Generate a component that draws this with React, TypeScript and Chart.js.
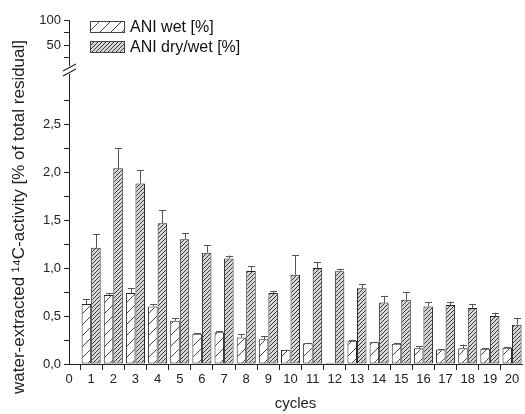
import React, { useEffect, useRef } from "react";
import { Chart, registerables } from "chart.js";

Chart.register(...registerables);

const cycles = [1, 2, 3, 4, 5, 6, 7, 8, 9, 10, 11, 12, 13, 14, 15, 16, 17, 18, 19, 20];
const wetValues = [0.625, 0.72, 0.74, 0.6, 0.45, 0.316, 0.33, 0.275, 0.257, 0.146, 0.215, 0.013, 0.243, 0.226, 0.21, 0.163, 0.15, 0.163, 0.16, 0.17];
const wetErrors = [0.05, 0.02, 0.05, 0.025, 0.025, 0.006, 0.01, 0.035, 0.03, 0.005, 0.005, 0.0, 0.005, 0.005, 0.005, 0.025, 0.005, 0.04, 0.005, 0.005];
const dryValues = [1.21, 2.04, 1.88, 1.465, 1.3, 1.16, 1.1, 0.97, 0.74, 0.93, 1.0, 0.965, 0.79, 0.64, 0.67, 0.6, 0.615, 0.583, 0.5, 0.41];
const dryErrors = [0.14, 0.21, 0.14, 0.135, 0.06, 0.08, 0.03, 0.05, 0.02, 0.205, 0.06, 0.025, 0.04, 0.07, 0.08, 0.045, 0.035, 0.037, 0.035, 0.07];
const seriesLabels = ["ANI wet [%]", "ANI dry/wet [%]"];
const xTitle = "cycles";
const yTitle = "water-extracted \u00B9\u2074C-activity [% of total residual]";

const FONT = "'Liberation Sans', Arial, Helvetica, sans-serif";
const INK = "#222";

function makeWetPattern(): CanvasPattern | string {
  const c = document.createElement("canvas");
  const s = 11;
  c.width = s;
  c.height = s;
  const g = c.getContext("2d");
  if (!g) return "#fff";
  g.fillStyle = "#fff";
  g.fillRect(0, 0, s, s);
  g.strokeStyle = "#444";
  g.lineWidth = 1;
  g.beginPath();
  g.moveTo(-1, s + 1);
  g.lineTo(s + 1, -1);
  g.moveTo(-2, 1);
  g.lineTo(1, -2);
  g.moveTo(s - 1, s + 2);
  g.lineTo(s + 2, s - 1);
  g.stroke();
  return g.createPattern(c, "repeat") || "#fff";
}

function makeDryPattern(): CanvasPattern | string {
  const c = document.createElement("canvas");
  const s = 4;
  c.width = s;
  c.height = s;
  const g = c.getContext("2d");
  if (!g) return "#999";
  g.fillStyle = "#d6d6d6";
  g.fillRect(0, 0, s, s);
  g.strokeStyle = "#3a3a3a";
  g.lineWidth = 1;
  g.beginPath();
  g.moveTo(-1, s + 1);
  g.lineTo(s + 1, -1);
  g.moveTo(-1, 1);
  g.lineTo(1, -1);
  g.moveTo(s - 1, s + 1);
  g.lineTo(s + 1, s - 1);
  g.stroke();
  return g.createPattern(c, "repeat") || "#999";
}

const errorBarPlugin = {
  id: "errorBars",
  afterDatasetsDraw(chart: any) {
    const ctx = chart.ctx;
    const yScale = chart.scales.y;
    const errs = [wetErrors, dryErrors];
    const vals = [wetValues, dryValues];
    ctx.save();
    ctx.strokeStyle = "#555";
    ctx.lineWidth = 1;
    chart.data.datasets.forEach((_ds: any, di: number) => {
      const meta = chart.getDatasetMeta(di);
      meta.data.forEach((bar: any, i: number) => {
        const e = errs[di][i];
        if (!e) return;
        const yTop = yScale.getPixelForValue(vals[di][i] + e);
        const x = Math.round(bar.x) + 0.5;
        ctx.beginPath();
        ctx.moveTo(x, bar.y);
        ctx.lineTo(x, yTop);
        ctx.moveTo(x - 3.5, Math.round(yTop) + 0.5);
        ctx.lineTo(x + 3.5, Math.round(yTop) + 0.5);
        ctx.stroke();
      });
    });
    ctx.restore();
  },
};

const breakPlugin = {
  id: "axisBreak",
  afterDraw(chart: any) {
    const ctx = chart.ctx;
    const y = chart.scales.y;
    const x0 = y.right;
    const yb = y.top;
    ctx.save();
    ctx.fillStyle = "#fff";
    ctx.fillRect(x0 - 4, yb - 4, 8, 8);
    ctx.strokeStyle = INK;
    ctx.lineWidth = 1.2;
    ctx.beginPath();
    ctx.moveTo(x0 - 6, yb + 1);
    ctx.lineTo(x0 + 7, yb - 6);
    ctx.moveTo(x0 - 6, yb + 6);
    ctx.lineTo(x0 + 7, yb - 1);
    ctx.stroke();
    ctx.restore();
  },
};

const legendPlugin = {
  id: "innerLegend",
  afterDraw(chart: any) {
    const ctx = chart.ctx;
    const left = chart.scales.y.right + 21;
    const boxW = 35;
    const boxH = 12;
    const tops = [21, 41];
    ctx.save();
    chart.data.datasets.forEach((ds: any, i: number) => {
      const t = tops[i];
      ctx.fillStyle = ds.backgroundColor;
      ctx.fillRect(left, t, boxW, boxH);
      ctx.strokeStyle = "#444";
      ctx.lineWidth = 1;
      ctx.strokeRect(left + 0.5, t + 0.5, boxW - 1, boxH - 1);
      ctx.fillStyle = "#111";
      ctx.font = `16px ${FONT}`;
      ctx.textBaseline = "middle";
      ctx.textAlign = "left";
      ctx.fillText(ds.label, left + boxW + 5, t + boxH / 2 + 1);
    });
    ctx.restore();
  },
};

export default function App() {
  const ref = useRef<HTMLCanvasElement | null>(null);

  useEffect(() => {
    const canvas = ref.current;
    if (!canvas) return;
    const wetPattern = makeWetPattern();
    const dryPattern = makeDryPattern();
    const tickFont = { family: FONT, size: 13 };

    const chart = new Chart(canvas, {
      type: "bar",
      data: {
        datasets: [
          {
            label: seriesLabels[0],
            data: cycles.map((c, i) => ({ x: c, y: wetValues[i] })),
            backgroundColor: wetPattern as any,
            borderColor: INK,
            borderWidth: 1,
            borderSkipped: false,
            categoryPercentage: 0.86,
            barPercentage: 1,
            xAxisID: "x",
            yAxisID: "y",
          },
          {
            label: seriesLabels[1],
            data: cycles.map((c, i) => ({ x: c, y: dryValues[i] })),
            backgroundColor: dryPattern as any,
            borderColor: INK,
            borderWidth: 1,
            borderSkipped: false,
            categoryPercentage: 0.86,
            barPercentage: 1,
            xAxisID: "x",
            yAxisID: "y",
          },
        ],
      },
      options: {
        animation: false,
        responsive: false,
        maintainAspectRatio: false,
        layout: { padding: { top: 20, right: 3, left: 0, bottom: 0 } },
        plugins: {
          legend: { display: false },
          tooltip: { enabled: false },
        },
        scales: {
          x: {
            type: "linear",
            min: 0,
            max: 20.45,
            offset: false,
            border: { color: INK, width: 1 },
            grid: { drawOnChartArea: false, drawTicks: true, tickLength: 6, tickColor: INK },
            ticks: { stepSize: 1, includeBounds: false, autoSkip: false, maxRotation: 0, font: tickFont, color: INK, padding: 2 },
            afterBuildTicks: (s: any) => {
              s.ticks = s.ticks.filter((t: any) => Number.isInteger(t.value) && t.value <= 20);
            },
            title: { display: true, text: xTitle, font: { family: FONT, size: 15 }, color: INK, padding: { top: 2, bottom: 1 } },
            afterFit: (s: any) => {
              s.height = 50;
            },
          },
          y: {
            type: "linear",
            position: "left",
            stack: "left",
            stackWeight: 294,
            min: 0,
            max: 3.0625,
            border: { color: INK, width: 1 },
            grid: { drawOnChartArea: false, drawTicks: true, tickLength: 5, tickColor: INK },
            ticks: {
              stepSize: 0.25,
              includeBounds: false,
              autoSkip: false,
              font: tickFont,
              color: INK,
              padding: 3,
              callback: (v: any) => {
                const n = Number(v);
                return Math.abs(n * 2 - Math.round(n * 2)) < 1e-6 ? n.toFixed(1).replace(".", ",") : "";
              },
            },
            afterBuildTicks: (s: any) => {
              s.ticks = s.ticks.filter((t: any) => Math.abs(t.value * 4 - Math.round(t.value * 4)) < 1e-6 && t.value <= 2.8);
            },
            title: { display: true, text: yTitle, font: { family: FONT, size: 17 }, color: INK, padding: { top: 9, bottom: 0 } },
            afterFit: (s: any) => {
              s.width = 69;
            },
          },
          y2: {
            type: "linear",
            position: "left",
            stack: "left",
            stackWeight: 50,
            min: 0,
            max: 100,
            border: { color: INK, width: 1 },
            grid: { drawOnChartArea: false, drawTicks: true, tickLength: 5, tickColor: INK },
            ticks: {
              stepSize: 25,
              includeBounds: false,
              autoSkip: false,
              font: tickFont,
              color: INK,
              padding: 3,
              callback: (v: any) => (Number(v) % 50 === 0 ? String(v) : ""),
            },
            afterBuildTicks: (s: any) => {
              s.ticks = s.ticks.filter((t: any) => t.value >= 25 && t.value % 25 === 0);
            },
            afterFit: (s: any) => {
              s.width = 69;
            },
          },
        },
      },
      plugins: [errorBarPlugin, breakPlugin, legendPlugin],
    });

    return () => chart.destroy();
  }, []);

  return (
    <div style={{ position: "fixed", left: 0, top: 0, width: 525, height: 414, background: "#fff" }}>
      <canvas ref={ref} width={525} height={414} style={{ display: "block" }} />
    </div>
  );
}
